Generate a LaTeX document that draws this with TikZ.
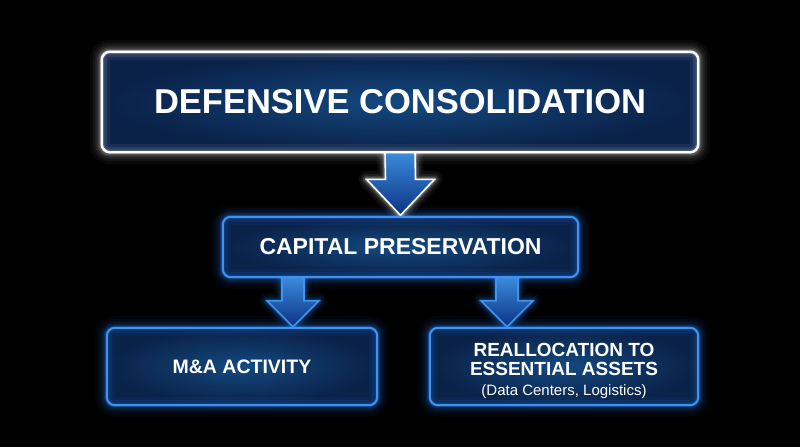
\documentclass[tikz,border=0pt]{standalone}
\usepackage{fontspec}
\setmainfont{Liberation Sans}
\usetikzlibrary{calc}
\definecolor{boxin}{HTML}{14497F}
\definecolor{boxout}{HTML}{0A2148}
\definecolor{edgeblue}{HTML}{3E93EE}
\definecolor{glowblue}{HTML}{2A86FF}
\definecolor{arrtop}{HTML}{3C8ADB}
\definecolor{arrbot}{HTML}{0B3383}
\pgfdeclarelayer{bgl}\pgfdeclarelayer{glowl}\pgfdeclarelayer{filll}\pgfdeclarelayer{arrl}\pgfdeclarelayer{edgel}
\pgfsetlayers{bgl,glowl,filll,arrl,edgel,main}
\tikzset{
  box/.style={draw=none, fill=none, inner sep=0pt, text=white, align=center},
  txt/.style={inner sep=0pt, text=white, anchor=base},
}
% #1 node name, #2 edge colour, #3 glow colour, #4 edge width
\newcommand\boxdeco[4]{%
 \begin{pgfonlayer}{glowl}
  \foreach \w/\o in {24/0.035,18/0.05,13/0.07,9/0.1,6/0.14,3.5/0.22}
   \draw[#3, line width=\w pt, opacity=\o, rounded corners=8pt] (#1.south west) rectangle (#1.north east);
 \end{pgfonlayer}
 \begin{pgfonlayer}{filll}
  \shade[rounded corners=8pt, inner color=boxin, outer color=boxout] (#1.south west) rectangle (#1.north east);
  \begin{scope}
   \clip[rounded corners=8pt] (#1.south west) rectangle (#1.north east);
   \foreach \w/\o in {16/0.06,10/0.09,5/0.14}
    \draw[#3, line width=\w pt, opacity=\o, rounded corners=8pt] (#1.south west) rectangle (#1.north east);
  \end{scope}
 \end{pgfonlayer}
 \begin{pgfonlayer}{edgel}
  \draw[#2, line width=#4, rounded corners=8pt] (#1.south west) rectangle (#1.north east);
 \end{pgfonlayer}
}
% #1 start coord, #2 tip coord, #3 half shaft, #4 half head, #5 head length, #6 edge colour, #7 glow colour
\newcommand\blockarrow[7]{%
 \def\arrpath{($(#1)+(-#3,0)$) -- ($(#2)+(-#3,-#5)$) -- ($(#2)+(-#4,-#5)$) -- (#2) -- ($(#2)+(#4,-#5)$) -- ($(#2)+(#3,-#5)$) -- ($(#1)+(#3,0)$) -- cycle}%
 \begin{pgfonlayer}{glowl}
  \foreach \w/\o in {16/0.05,11/0.08,7/0.12,4/0.2}
   \draw[#7, line width=\w pt, opacity=\o, line join=round] \arrpath;
 \end{pgfonlayer}
 \begin{pgfonlayer}{arrl}
  \shade[top color=arrtop, bottom color=arrbot] \arrpath;
  \draw[#6, line width=1.6pt, line join=miter] \arrpath;
 \end{pgfonlayer}
}
\begin{document}
\begin{tikzpicture}[x=1pt, y=-1pt]
\begin{pgfonlayer}{bgl}
 \fill[black] (0,0) rectangle (800,447);
\end{pgfonlayer}
\useasboundingbox (0,0) rectangle (800,447);

\node[box, minimum width=596pt, minimum height=100pt, font=\bfseries\fontsize{34.5}{40}\selectfont] (top) at (400,102) {DEFENSIVE CONSOLIDATION};
\node[box, minimum width=355pt, minimum height=60pt, font=\bfseries\fontsize{23}{27}\selectfont] (cap) at (400.5,247) {CAPITAL PRESERVATION};
\node[box, minimum width=270pt, minimum height=77pt, font=\bfseries\fontsize{19.5}{23}\selectfont] (bl) at (242,366.5) {M\&A ACTIVITY};
\node[box, minimum width=268pt, minimum height=77pt] (br) at (564,366.5) {};
\node[txt, font=\bfseries\fontsize{19}{22}\selectfont] (br1) at ($(br.center)+(0,-10.5)$) {REALLOCATION TO};
\node[txt, font=\bfseries\fontsize{19}{22}\selectfont] (br2) at ($(br.center)+(0,9)$) {ESSENTIAL ASSETS};
\node[txt, font=\fontsize{15}{18}\selectfont] (br3) at ($(br.center)+(0,28.5)$) {(Data Centers, Logistics)};

\boxdeco{top}{white}{white}{2.4pt}
\boxdeco{cap}{edgeblue}{glowblue}{2pt}
\boxdeco{bl}{edgeblue}{glowblue}{2pt}
\boxdeco{br}{edgeblue}{glowblue}{2pt}

\coordinate (a1s) at (top.south);
\coordinate (a1e) at ($(cap.north)+(0,-1.5)$);
\blockarrow{a1s}{a1e}{15}{34}{36}{white}{white}

\coordinate (a2s) at ($(cap.south)+(-107.5,0)$);
\coordinate (a2e) at ($(a2s |- bl.north)+(0,-1)$);
\blockarrow{a2s}{a2e}{11}{26}{26}{edgeblue}{glowblue}

\coordinate (a3s) at ($(cap.south)+(106.5,0)$);
\coordinate (a3e) at ($(a3s |- br.north)+(0,-1)$);
\blockarrow{a3s}{a3e}{11}{26}{26}{edgeblue}{glowblue}
\end{tikzpicture}
\end{document}
